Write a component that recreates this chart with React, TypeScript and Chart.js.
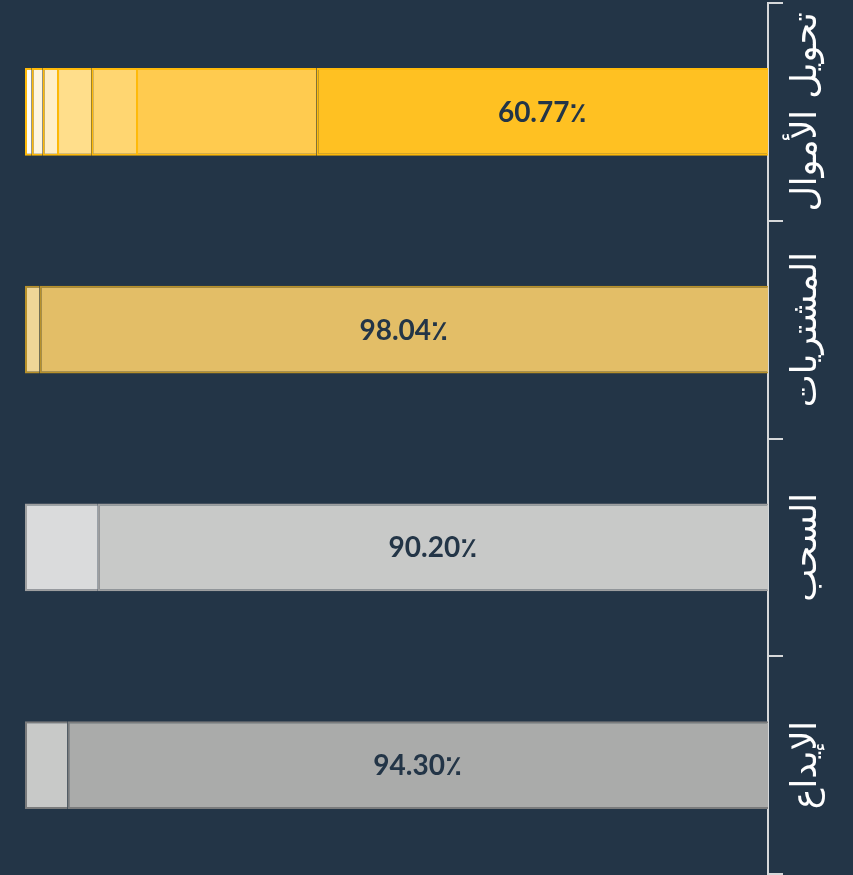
import React, { useEffect, useRef } from "react";
import { Chart, registerables } from "chart.js";

Chart.register(...registerables);

const categories = ["تحويل الأموال", "المشتريات", "السحب", "الإيداع"];
const series1 = [60.77, 98.04, 90.2, 94.3];
const series2 = [24.29, 1.96, 9.8, 5.7];
const series3 = [6.02, null, null, null];
const series4 = [4.61, null, null, null];
const series5 = [1.93, null, null, null];
const series6 = [1.48, null, null, null];
const series7 = [0.9, null, null, null];

const allSeries = [series1, series2, series3, series4, series5, series6, series7];

const rowFills = [
  ["#FFC122", "#FFCB4F", "#FFD671", "#FFDE8B", "#FFEFC9", "#FFF6DF", "#FFFDF7"],
  ["#E3BE67", "#EFD697"],
  ["#C8C9C8", "#DADBDC"],
  ["#AAABAA", "#C8C9C8"],
];
const rowBorders = ["#FFBA0A", "#B8912A", "#9E9FA0", "#7A7B7C"];

const BG = "#233547";
const AXIS = "#d6d8da";

export default function App() {
  const ref = useRef<HTMLCanvasElement | null>(null);

  useEffect(() => {
    document.body.style.margin = "0";
    const canvas = ref.current;
    if (!canvas) return;

    const labelPlugin = {
      id: "customLabels",
      afterDatasetsDraw(chart: any) {
        const ctx = chart.ctx;
        const meta = chart.getDatasetMeta(0);
        ctx.save();
        ctx.fillStyle = BG;
        ctx.font = "bold 28px Lato, 'DejaVu Sans', sans-serif";
        ctx.textAlign = "center";
        ctx.textBaseline = "middle";
        meta.data.forEach((el: any, i: number) => {
          const v = series1[i];
          if (v == null) return;
          const cx = (el.x + el.base) / 2;
          ctx.fillText(v.toFixed(2) + "٪", cx, el.y + 1);
        });
        ctx.restore();
      },
      afterDraw(chart: any) {
        const ctx = chart.ctx;
        const yScale = chart.scales.y;
        ctx.save();
        ctx.fillStyle = "#ffffff";
        ctx.font = "35px 'DejaVu Sans', sans-serif";
        ctx.textAlign = "center";
        ctx.textBaseline = "alphabetic";
        categories.forEach((c, i) => {
          const y = yScale.getPixelForValue(i);
          ctx.save();
          ctx.translate(816, y);
          ctx.rotate(-Math.PI / 2);
          ctx.fillText(c, 0, 0);
          ctx.restore();
        });
        ctx.restore();
      },
    };

    const datasets = allSeries.map((s, di) => ({
      label: "s" + di,
      data: s,
      backgroundColor: rowFills.map((r) => r[di] ?? "transparent"),
      borderColor: rowBorders,
      borderWidth: 2,
      barPercentage: 0.505,
      categoryPercentage: 0.8,
    }));

    const chart = new Chart(canvas, {
      type: "bar",
      data: { labels: categories, datasets },
      plugins: [labelPlugin],
      options: {
        indexAxis: "y",
        responsive: false,
        animation: false,
        devicePixelRatio: 1,
        layout: { padding: { left: 25, top: 3, bottom: 1, right: 0 } },
        plugins: { legend: { display: false }, tooltip: { enabled: false } },
        scales: {
          x: {
            display: false,
            stacked: true,
            reverse: true,
            min: 0,
            max: 100,
          },
          y: {
            position: "right",
            stacked: true,
            grid: {
              drawOnChartArea: false,
              drawTicks: true,
              tickLength: 15,
              color: AXIS,
              lineWidth: 2,
            },
            border: { display: true, color: AXIS, width: 2 },
            ticks: { display: false },
            afterFit(scale: any) {
              scale.width = 85;
            },
          },
        },
      },
    } as any);

    return () => chart.destroy();
  }, []);

  return (
    <div style={{ position: "absolute", left: 0, top: 0, width: 853, height: 875, background: BG }}>
      <canvas ref={ref} width={853} height={875} style={{ display: "block" }} />
    </div>
  );
}
